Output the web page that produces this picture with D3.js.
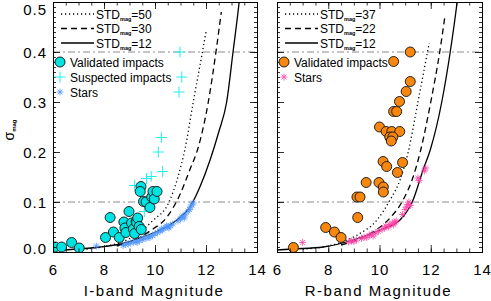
<!DOCTYPE html>
<html>
<head>
<meta charset="utf-8">
<script src="https://cdn.jsdelivr.net/npm/d3@7"></script>
<style>
  body { margin: 0; background: #fff; }
  svg { display: block; font-family: "Liberation Sans", Arial, sans-serif; }
</style>
</head>
<body>
<div id="chart"></div>
<script>
// ---- data (magnitude, sigma_mag) ----
const iValidated = [[6.08,0.01],[6.34,0.01],[6.73,0.019],[7.03,0.008],[8.06,0.029],[8.24,0.069],[8.37,0.04],
  [8.6,0.029],[8.78,0.06],[8.82,0.048],[8.86,0.039],[8.98,0.081],[9.08,0.058],[9.15,0.046],[9.2,0.037],
  [9.26,0.061],[9.28,0.059],[9.32,0.068],[9.38,0.051],[9.46,0.045],[9.45,0.131],[9.42,0.121],[9.55,0.101],
  [9.65,0.1],[9.8,0.089],[9.87,0.11],[9.92,0.121],[9.97,0.106],[10.08,0.121]];
const iSuspected = [[10.98,0.4],[11.05,0.35],[10.94,0.32],[10.25,0.229],[10.13,0.2],[10.3,0.161],
  [9.67,0.147],[9.85,0.151],[9.2,0.133],[9.58,0.081]];
const iStars = [[7.7,0.012],[8.75,0.013],[8.85,0.015],[8.95,0.016],[9.05,0.018],[9.15,0.02],[9.25,0.021],[9.3,0.019],
  [9.4,0.023],[9.5,0.025],[9.55,0.028],[9.65,0.027],[9.75,0.031],[9.8,0.029],[9.9,0.033],[10.0,0.036],
  [10.1,0.039],[10.2,0.042],[10.25,0.046],[10.3,0.044],[10.4,0.049],[10.45,0.052],[10.5,0.05],[10.55,0.048],
  [10.6,0.053],[10.7,0.056],[10.9,0.062],[11.0,0.066],[11.05,0.07],[11.1,0.072],[11.15,0.068],[11.2,0.076],
  [11.3,0.082],[11.35,0.085],[11.4,0.09],[11.45,0.094],[11.5,0.098]];

const rValidated = [[11.2,0.4],[10.55,0.381],[11.2,0.341],[11.04,0.321],[10.78,0.301],[10.55,0.281],[10.67,0.281],
  [10.0,0.25],[10.26,0.241],[10.48,0.241],[10.79,0.241],[10.4,0.23],[10.52,0.23],[10.46,0.222],[6.64,0.009],
  [7.9,0.049],[8.24,0.04],[8.5,0.029],[9.15,0.069],[9.12,0.11],[9.24,0.11],[9.48,0.139],[9.98,0.139],
  [10.15,0.13],[10.15,0.12],[10.14,0.181],[10.28,0.171],[10.7,0.159],[10.9,0.179]];
const rStars = [[7.0,0.019],[8.8,0.02],[8.9,0.022],[9.0,0.021],[9.1,0.024],[9.3,0.027],[9.4,0.03],[9.5,0.029],
  [9.6,0.033],[9.7,0.036],[9.75,0.032],[9.85,0.038],[9.95,0.041],[10.1,0.045],[10.2,0.048],[10.25,0.052],
  [10.35,0.05],[10.4,0.055],[10.5,0.058],[10.55,0.054],[10.6,0.06],[10.65,0.062],[10.9,0.075],[11.0,0.085],
  [11.05,0.09],[11.1,0.095],[11.15,0.1],[11.2,0.093],[11.5,0.148],[11.55,0.143],[11.75,0.162],[11.8,0.168]];

// noise curves, points
const iCurves = [
  {label: "50", dash: "1.2,2.8", pts: [[7,0.004],[8,0.011],[8.7,0.02],[9.3,0.036],[9.9,0.062],[10.55,0.1],
    [10.9,0.15],[11.18,0.207],[11.5,0.3],[11.86,0.4],[12.0,0.44]]},
  {label: "30", dash: "6,4", pts: [[8.5,0.012],[9.2,0.024],[9.8,0.042],[10.47,0.07],[10.98,0.115],[11.37,0.165],
    [11.7,0.21],[12.09,0.3],[12.39,0.4],[12.6,0.48]]},
  {label: "12", dash: null, pts: [[6,0.003],[7,0.006],[7.84,0.01],[8.63,0.016],[9.4,0.028],[10.2,0.044],
    [10.86,0.064],[11.37,0.09],[11.76,0.13],[12.16,0.184],[12.5,0.24],[12.81,0.3],[13.06,0.4],[13.3,0.5],[13.4,0.55]]}
];
const rCurves = [
  {label: "37", dash: "1.2,2.8", pts: [[7,0.006],[8,0.012],[9.13,0.034],[9.9,0.064],[10.41,0.104],[10.8,0.144],
    [11.12,0.2],[11.5,0.3],[11.94,0.418]]},
  {label: "22", dash: "6,4", pts: [[8.5,0.014],[9.75,0.04],[10.41,0.068],[10.92,0.104],[11.31,0.15],[11.59,0.2],
    [12.0,0.3],[12.35,0.4],[12.56,0.474]]},
  {label: "12", dash: null, pts: [[6,0.004],[6.6,0.006],[7.8,0.01],[8.97,0.024],[10.02,0.044],[10.8,0.064],
    [11.31,0.104],[11.7,0.164],[11.98,0.204],[12.43,0.3],[12.76,0.4],[13.03,0.5],[13.1,0.53]]}
];

const xTicks = [6, 8, 10, 12, 14];
const yTicks = [0.0, 0.1, 0.2, 0.3, 0.4, 0.5];
const refLines = [0.1, 0.4];

const W = 491, H = 301;
const plotTop = 2, plotBottom = 252;

const svg = d3.select("#chart").append("svg")
    .attr("width", W)
    .attr("height", H);

const y = d3.scaleLinear().domain([0, 0.5]).range([plotBottom, plotTop]);

function star(g, cx, cy, r, color) {
  const k = r * 0.7071;
  const p = `M${cx - r},${cy}L${cx + r},${cy}M${cx},${cy - r}L${cx},${cy + r}` +
            `M${cx - k},${cy - k}L${cx + k},${cy + k}M${cx - k},${cy + k}L${cx + k},${cy - k}`;
  g.append("path").attr("d", p).attr("stroke", color).attr("stroke-width", 0.8).attr("fill", "none");
}

function plus(g, cx, cy, r, color) {
  g.append("path")
    .attr("d", `M${cx - r},${cy}L${cx + r},${cy}M${cx},${cy - r}L${cx},${cy + r}`)
    .attr("stroke", color).attr("stroke-width", 1).attr("fill", "none");
}

function drawPanel(opt) {
  const x = d3.scaleLinear().domain([6, 14]).range([opt.left, opt.right]);
  const g = svg.append("g");

  const clipId = "clip" + opt.id;
  svg.append("clipPath").attr("id", clipId)
    .append("rect").attr("x", opt.left).attr("y", plotTop)
    .attr("width", opt.right - opt.left).attr("height", plotBottom - plotTop);

  const plot = g.append("g").attr("clip-path", `url(#${clipId})`);

  // dash-dot reference lines
  plot.selectAll(".ref").data(refLines).enter().append("line")
    .attr("x1", opt.left).attr("x2", opt.right)
    .attr("y1", d => y(d)).attr("y2", d => y(d))
    .attr("stroke", "#8c8c8c").attr("stroke-width", 1)
    .attr("stroke-dasharray", "7,3,2,3");

  const line = d3.line().x(d => x(d[0])).y(d => y(d[1])).curve(d3.curveMonotoneX);
  plot.selectAll(".curve").data(opt.curves).enter().append("path")
    .attr("d", d => line(d.pts))
    .attr("fill", "none").attr("stroke", "#000").attr("stroke-width", 1.3)
    .attr("stroke-dasharray", d => d.dash);

  // stars
  const sg = plot.append("g");
  opt.stars.forEach(d => star(sg, x(d[0]), y(d[1]), 3.5, opt.starColor));

  // suspected impacts
  if (opt.suspected) {
    const pg = plot.append("g");
    opt.suspected.forEach(d => plus(pg, x(d[0]), y(d[1]), 5.5, "#22eef2"));
  }

  // validated impacts
  plot.append("g").selectAll("circle").data(opt.validated).enter().append("circle")
    .attr("cx", d => x(d[0])).attr("cy", d => y(d[1])).attr("r", 5)
    .attr("fill", opt.fill).attr("stroke", "#111").attr("stroke-width", 0.9);

  // axes: major + minor ticks pointing inward on all four sides
  const xMinor = d3.range(6, 14.01, 0.5);
  const yMinor = d3.range(0, 0.501, 0.01);

  const bAx = g.append("g").attr("transform", `translate(0,${plotBottom})`)
    .call(d3.axisBottom(x).tickValues(xTicks).tickSize(-7).tickPadding(12).tickFormat(d3.format("d")));
  g.append("g").attr("transform", `translate(0,${plotBottom})`)
    .call(d3.axisBottom(x).tickValues(xMinor).tickSize(-3.5).tickFormat(""));
  g.append("g").attr("transform", `translate(0,${plotTop})`)
    .call(d3.axisTop(x).tickValues(xTicks).tickSize(-7).tickFormat(""));
  g.append("g").attr("transform", `translate(0,${plotTop})`)
    .call(d3.axisTop(x).tickValues(xMinor).tickSize(-3.5).tickFormat(""));

  const lAx = g.append("g").attr("transform", `translate(${opt.left},0)`)
    .call(d3.axisLeft(y).tickValues(yTicks).tickSize(-7).tickPadding(6)
      .tickFormat(opt.yLabels ? d3.format(".1f") : ""));
  g.append("g").attr("transform", `translate(${opt.left},0)`)
    .call(d3.axisLeft(y).tickValues(yMinor).tickSize(-3).tickFormat(""));
  g.append("g").attr("transform", `translate(${opt.right},0)`)
    .call(d3.axisRight(y).tickValues(yTicks).tickSize(-7).tickFormat(""));
  g.append("g").attr("transform", `translate(${opt.right},0)`)
    .call(d3.axisRight(y).tickValues(yMinor).tickSize(-3).tickFormat(""));

  g.selectAll(".domain").attr("stroke", "#000").attr("stroke-width", 1);
  g.selectAll(".tick line").attr("stroke", "#000").attr("stroke-width", 0.8);
  g.selectAll(".tick text").attr("font-size", 15).attr("fill", "#000")
    .attr("letter-spacing", "1px").style("font-family", "'Liberation Sans', Arial, sans-serif");
  if (opt.yLabels) {
    lAx.selectAll(".tick text")
      .attr("dy", d => d === 0.5 ? "0.85em" : d === 0 ? "0.1em" : "0.34em");
  }
  bAx.selectAll(".tick text").attr("dy", "0.71em");

  // x title
  g.append("text")
    .attr("x", (opt.left + opt.right) / 2 - 1)
    .attr("y", 296)
    .attr("text-anchor", "middle")
    .attr("font-size", 15)
    .attr("letter-spacing", "1.5px")
    .text(opt.xTitle);

  // legend: curves
  const lg = g.append("g");
  opt.curves.forEach((c, i) => {
    const ly = 14 + i * 14.5;
    lg.append("line")
      .attr("x1", opt.left + 8).attr("x2", opt.left + 41)
      .attr("y1", ly).attr("y2", ly)
      .attr("stroke", "#000").attr("stroke-width", 1.3)
      .attr("stroke-dasharray", c.dash);
    const t = lg.append("text").attr("x", opt.left + 43).attr("y", ly + 4.5).attr("font-size", 12);
    t.append("tspan").text("STD");
    t.append("tspan").attr("font-size", 5.5).attr("font-weight", "bold").attr("dy", 2).text("mag");
    t.append("tspan").attr("dy", -2).text("=" + c.label);
  });

  // legend: markers
  opt.legend.forEach((e, i) => {
    const ly = 62 + i * 15;
    const mx = opt.left + 7;
    if (e.type === "circle") {
      lg.append("circle").attr("cx", mx).attr("cy", ly).attr("r", 5)
        .attr("fill", opt.fill).attr("stroke", "#111").attr("stroke-width", 0.9);
    } else if (e.type === "plus") {
      plus(lg, mx, ly, 5.5, "#22eef2");
    } else {
      star(lg, mx, ly, 3.5, opt.starColor);
    }
    lg.append("text").attr("x", opt.left + 17).attr("y", ly + 4.5)
      .attr("font-size", 12).text(e.text);
  });
}

drawPanel({
  id: "I", left: 53, right: 257, xTitle: "I-band Magnitude", yLabels: true,
  curves: iCurves, validated: iValidated, suspected: iSuspected, stars: iStars,
  fill: "#00e3e3", starColor: "#4f96ff",
  legend: [{type: "circle", text: "Validated impacts"},
           {type: "plus", text: "Suspected impacts"},
           {type: "star", text: "Stars"}]
});

drawPanel({
  id: "R", left: 277, right: 482, xTitle: "R-band Magnitude", yLabels: false,
  curves: rCurves, validated: rValidated, suspected: null, stars: rStars,
  fill: "#f7870f", starColor: "#ff45a8",
  legend: [{type: "circle", text: "Validated impacts"},
           {type: "star", text: "Stars"}]
});

// y axis title: sigma_mag
const yt = svg.append("text")
  .attr("transform", "translate(14,130) rotate(-90)")
  .attr("text-anchor", "middle")
  .attr("font-size", 14);
yt.append("tspan").text("σ");
yt.append("tspan").attr("font-size", 6).attr("font-weight", "bold").attr("dy", 2).text("mag");
</script>
</body>
</html>
